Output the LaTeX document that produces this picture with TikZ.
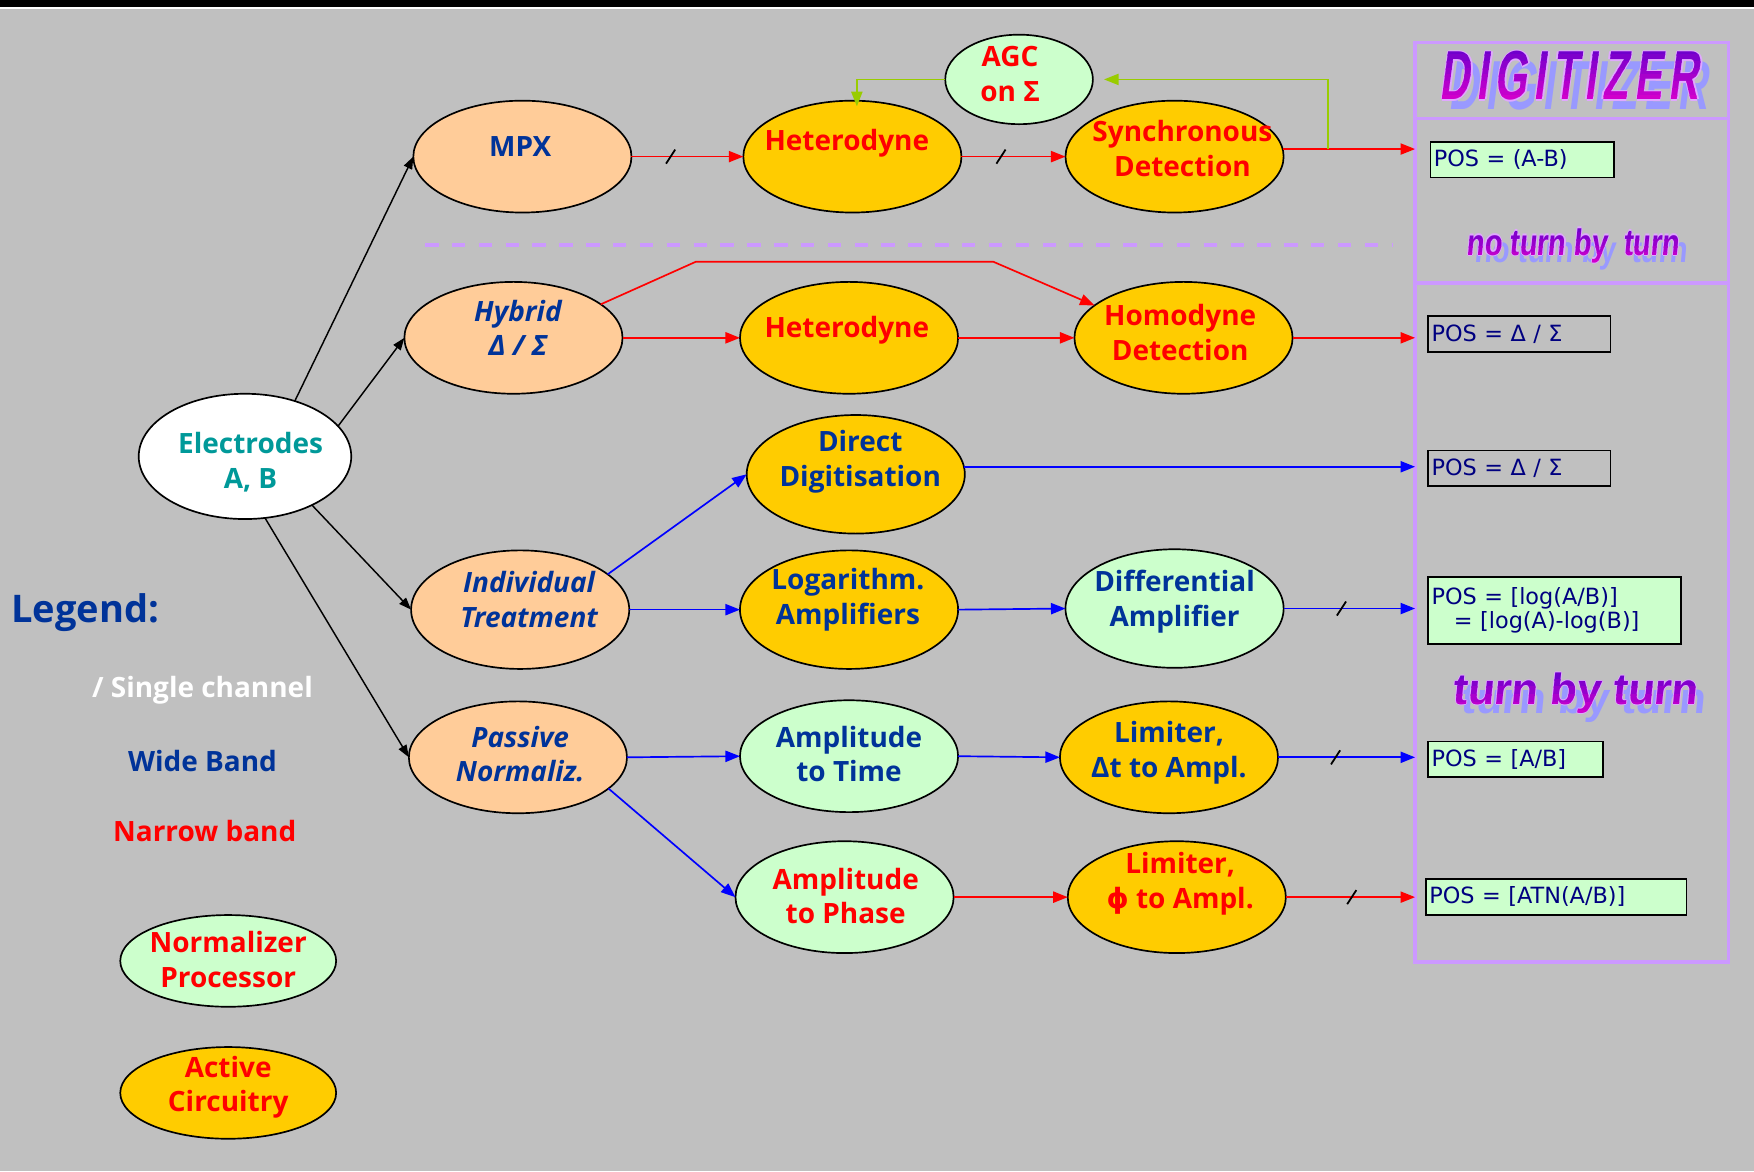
\documentclass[tikz,border=0pt]{standalone}
\usepackage{fontspec}
\usepackage{graphicx}
\setmainfont{Open Sans}
\newfontfamily\boxfont{DejaVu Sans}
\newfontfamily\symfont{DejaVu Sans}
\newfontfamily\wordart{Liberation Sans}[FakeSlant=0.22, LetterSpace=16]
\newfontfamily\wordartn{Liberation Sans}[FakeSlant=0.12]
\newfontfamily\wordartb{Liberation Sans}[FakeSlant=0.1]
\usetikzlibrary{arrows.meta,calc,shapes.geometric}
\definecolor{bgc}{HTML}{C0C0C0}
\definecolor{peach}{HTML}{FFCC99}
\definecolor{gold}{HTML}{FFCC00}
\definecolor{mint}{HTML}{CCFFCC}
\definecolor{dblue}{HTML}{003399}
\definecolor{teal2}{HTML}{009999}
\definecolor{navy2}{HTML}{000080}
\definecolor{fbgreen}{HTML}{99CC00}
\definecolor{lav}{HTML}{CC99FF}
\definecolor{shad}{HTML}{9999FF}
\definecolor{glow}{HTML}{E0A8FF}
\definecolor{wtop}{HTML}{7000CC}
\definecolor{wbot}{HTML}{D000CC}
\begin{document}
\begin{tikzpicture}[x=1pt,y=-1pt,
  ell/.style={ellipse, draw=black, line width=1.5pt, minimum width=195pt, minimum height=100pt, inner sep=0pt, outer sep=0pt},
  tall/.style={minimum height=106pt},
  leg/.style={minimum width=193pt, minimum height=82pt},
  txt/.style={font=\bfseries\fontsize{25}{31}\selectfont, align=center, inner sep=0pt},
  itxt/.style={font=\bfseries\itshape\fontsize{25}{31}\selectfont, align=center, inner sep=0pt},
  arr/.style={line width=1.5pt, -{Triangle[length=13pt,width=10pt]}},
  reda/.style={arr, draw=red, color=red},
  bluea/.style={arr, draw=blue, color=blue},
  blka/.style={line width=1.3pt, black, -{Triangle[length=11pt,width=8pt]}},
  fba/.style={line width=1.5pt, draw=fbgreen, color=fbgreen, -{Triangle[length=13pt,width=10pt]}},
  tickmk/.style={fill=black, draw=none, inner sep=0pt, outer sep=0pt, minimum width=1.6pt, minimum height=15pt, rotate=-33, sloped=false},
  posbox/.style={draw=black, line width=1.5pt, anchor=north west, inner sep=3pt, align=left,
     font=\boxfont\fontsize{20}{24}\selectfont, text=navy2},
  wa/.style={inner sep=0pt, anchor=base, font=\wordart\bfseries\fontsize{62}{62}\selectfont},
  wb/.style={inner sep=0pt, anchor=base, font=\wordartn\bfseries\fontsize{33}{33}\selectfont},
  wc/.style={inner sep=0pt, anchor=base, font=\wordartb\bfseries\fontsize{39}{39}\selectfont}
]
\useasboundingbox (0,0) rectangle (1568,1047);
\fill[bgc] (0,0) rectangle (1568,1047);
\fill[black] (0,0) rectangle (1568,6);
\fill[white] (0,6) rectangle (1568,8);

% ---------- digitizer frame ----------
\node[draw=lav, line width=3pt, minimum width=280pt, minimum height=822pt, inner sep=0pt, outer sep=0pt] (dig) at (1405,449) {};
\draw[lav, line width=3pt] (dig.west |- 0,106) -- (dig.east |- 0,106);
\draw[lav, line width=3pt] (dig.west |- 0,253) -- (dig.east |- 0,253);

% wordart DIGITIZER: shadow, glow, gradient (banded) text
\node[wa, text=shad] (digsh) at (1411,98) {\scalebox{0.6}[1]{DIGITIZER}};
\foreach \dx/\dy [count=\k] in {-1.3/0, 1.3/0, 0/-1.3, 0/1.3} {
  \node[wa, text=glow] (digg\k) at (1403+\dx,89+\dy) {\scalebox{0.6}[1]{DIGITIZER}};
}
\foreach \i in {0,...,7} {
  \pgfmathtruncatemacro\pc{100-\i*100/7}
  \begin{scope}
    \clip (1270,{43+\i*6}) rectangle (1540,{50+\i*6});
    \node[wa, text=wtop!\pc!wbot] (dig\i) at (1403,89) {\scalebox{0.6}[1]{DIGITIZER}};
  \end{scope}
}
% wordart "no turn by turn"
\node[wb, text=shad] (nsh) at (1413,235) {\scalebox{0.78}[1]{no turn by\ \ turn}};
\foreach \dx/\dy [count=\k] in {-1/0, 1/0, 0/-1, 0/1} {
  \node[wb, text=glow] (nottg\k) at (1406+\dx,228+\dy) {\scalebox{0.78}[1]{no turn by\ \ turn}};
}
\foreach \i in {0,...,5} {
  \pgfmathtruncatemacro\pc{100-\i*20}
  \begin{scope}
    \clip (1290,{202+\i*6}) rectangle (1530,{209+\i*6});
    \node[wb, text=wtop!\pc!wbot] (nott\i) at (1406,228) {\scalebox{0.78}[1]{no turn by\ \ turn}};
  \end{scope}
}
% wordart "turn by turn"
\node[wc, text=shad] (tsh) at (1415,638) {turn by turn};
\foreach \dx/\dy [count=\k] in {-1/0, 1/0, 0/-1, 0/1} {
  \node[wc, text=glow] (tbtg\k) at (1408+\dx,630+\dy) {turn by turn};
}
\foreach \i in {0,...,5} {
  \pgfmathtruncatemacro\pc{100-\i*20}
  \begin{scope}
    \clip (1280,{600+\i*7}) rectangle (1540,{608+\i*7});
    \node[wc, text=wtop!\pc!wbot] (tbt\i) at (1408,630) {turn by turn};
  \end{scope}
}

% POS boxes
\node[posbox, fill=mint, text width=158pt, minimum height=32pt] (p1) at (1278,126) {POS = (A-B)};
\node[posbox, text width=157pt, minimum height=32pt] (p2) at (1276,282) {POS = {\symfont Δ} / {\symfont Σ}};
\node[posbox, text width=157pt, minimum height=32pt] (p3) at (1276,402) {POS = {\symfont Δ} / {\symfont Σ}};
\node[posbox, fill=mint, text width=220pt, minimum height=60pt, font=\boxfont\fontsize{20}{22}\selectfont] (p4) at (1276,515) {POS = [log(A/B)]\\\ \ \ = [log(A)-log(B)]};
\node[posbox, fill=mint, text width=150pt, minimum height=32pt] (p5) at (1276,662) {POS = [A/B]};
\node[posbox, fill=mint, text width=227pt, minimum height=32pt] (p6) at (1274,785) {POS = [ATN(A/B)]};

% dashed separator
\draw[lav, line width=3pt, dash pattern=on 12pt off 12pt] (380,219) -- (1245,219);

% ---------- ellipses ----------
\node[ell, fill=white, minimum width=190pt, minimum height=112pt] (elec) at (219,408) {};
\node[ell, fill=peach] (mpx) at (467,140) {};
\node[ell, fill=gold] (het1) at (762,140) {};
\node[ell, fill=mint, minimum width=132pt, minimum height=80pt] (agc) at (911,71) {};
\node[ell, fill=gold] (sync) at (1050,140) {};
\node[ell, fill=peach] (hyb) at (459,302) {};
\node[ell, fill=gold] (het2) at (759,302) {};
\node[ell, fill=gold] (hom) at (1058,302) {};
\node[ell, tall, fill=gold] (dir) at (765,424) {};
\node[ell, tall, fill=peach] (ind) at (465,545) {};
\node[ell, tall, fill=gold] (log) at (759,545) {};
\node[ell, tall, fill=mint] (diff) at (1050,544) {};
\node[ell, fill=peach] (pas) at (463,677) {};
\node[ell, fill=mint] (amt) at (759,676) {};
\node[ell, fill=gold] (lim1) at (1045,677) {};
\node[ell, fill=mint] (amp) at (755,802) {};
\node[ell, fill=gold] (lim2) at (1052,802) {};
\node[ell, leg, fill=mint] (lnorm) at (204,859) {};
\node[ell, leg, fill=gold] (lact) at (204,977) {};

% ---------- ellipse texts ----------
\node[txt, text=teal2] (telec) at (224,413) {Electrodes\\A, B};
\node[txt, text=dblue] (tmpx) at (465,131) {MPX};
\node[txt, text=red] (thet1) at (757,128) {Heterodyne};
\node[txt, text=red] (tagc) at (903,66) {AGC\\on Σ};
\node[txt, text=red] (tsync) at (1057,133) {Synchronous\\Detection};
\node[itxt, text=dblue] (thyb) at (463,293) {Hybrid\\Δ / Σ};
\node[txt, text=red] (thet2) at (757,295) {Heterodyne};
\node[txt, text=red] (thom) at (1055,297) {Homodyne\\Detection};
\node[txt, text=dblue] (tdir) at (769,413) {Direct\\Digitisation};
\node[itxt, text=dblue] (tind) at (473,536) {Individual\\Treatment};
\node[txt, text=dblue] (tlog) at (758,536) {Logarithm.\\Amplifiers};
\node[txt, text=dblue] (tdiff) at (1050,538) {Differential\\Amplifier};
\node[itxt, text=dblue] (tpas) at (465,674) {Passive\\Normaliz.};
\node[txt, text=dblue] (tamt) at (759,674) {Amplitude\\to Time};
\node[txt, text=dblue] (tlim1) at (1045,673) {Limiter,\\Δt to Ampl.};
\node[txt, text=red] (tamp) at (756,801) {Amplitude\\to Phase};
\node[txt, text=red] (tlim2) at (1055,790) {Limiter,\\{\symfont\bfseries ϕ} to Ampl.};
\node[txt, text=red] (tnorm) at (204,858) {Normalizer\\Processor};
\node[txt, text=red] (tact) at (204,972) {Active\\Circuitry};

% ---------- legend ----------
\node[txt, text=dblue, font=\bfseries\fontsize{34}{40}\selectfont] (lleg) at (76,548) {Legend:};
\node[txt, text=white] (lsingle) at (181,617) {/ Single channel};
\node[txt, text=dblue] (lwide) at (181,680) {Wide Band};
\node[txt, text=red] (lnarrow) at (183,743) {Narrow band};

% ---------- connectors ----------
\draw[blka] (elec.48) -- (mpx.west);
\draw[blka] (elec.18) -- (hyb.west);
\draw[blka] (elec.-36) -- (ind.west);
\draw[blka] (elec.-72) -- (pas.west);

% top row (narrow band)
\draw[reda] (mpx.east) -- node[tickmk, pos=.35] (tk1) {} (het1.west);
\draw[reda] (het1.east) -- node[tickmk, pos=.38] (tk2) {} (sync.west);
\draw[reda] (sync.4) -- (sync.4 -| dig.west);
\coordinate (fb) at (1187,133);
\draw[fba, shorten >=10pt] (fb) |- (agc.east);
\draw[fba] (agc.west) -| ($(het1.north)+(4,5)$);

% hybrid row
\coordinate (hb1) at (622,234);
\coordinate (hb2) at (888,234);
\draw[reda] (hyb.east) -- (het2.west);
\draw[reda] (het2.east) -- (hom.west);
\draw[reda] (hom.east) -- (hom.east -| dig.west);
\draw[reda] (hyb.21) -- (hb1) -- (hb2) -- (hom.160);

% individual treatment
\draw[bluea] (ind.22) -- (dir.west);
\draw[bluea] (dir.4) -- (dir.4 -| dig.west);
\draw[bluea] (ind.east) -- (log.west);
\draw[bluea] (log.east) -- (diff.west);
\draw[bluea] (diff.east) -- node[tickmk, pos=.44] (tk3) {} (diff.east -| dig.west);

% passive normalization
\draw[bluea] (pas.east) -- (amt.west);
\draw[bluea] (amt.east) -- (lim1.west);
\draw[bluea] (lim1.east) -- node[tickmk, pos=.42] (tk4) {} (lim1.east -| dig.west);
\draw[bluea] (pas.-19) -- (amp.west);
\draw[reda] (amp.east) -- (lim2.west);
\draw[reda] (lim2.east) -- node[tickmk, pos=.51] (tk5) {} (lim2.east -| dig.west);
\end{tikzpicture}
\end{document}
